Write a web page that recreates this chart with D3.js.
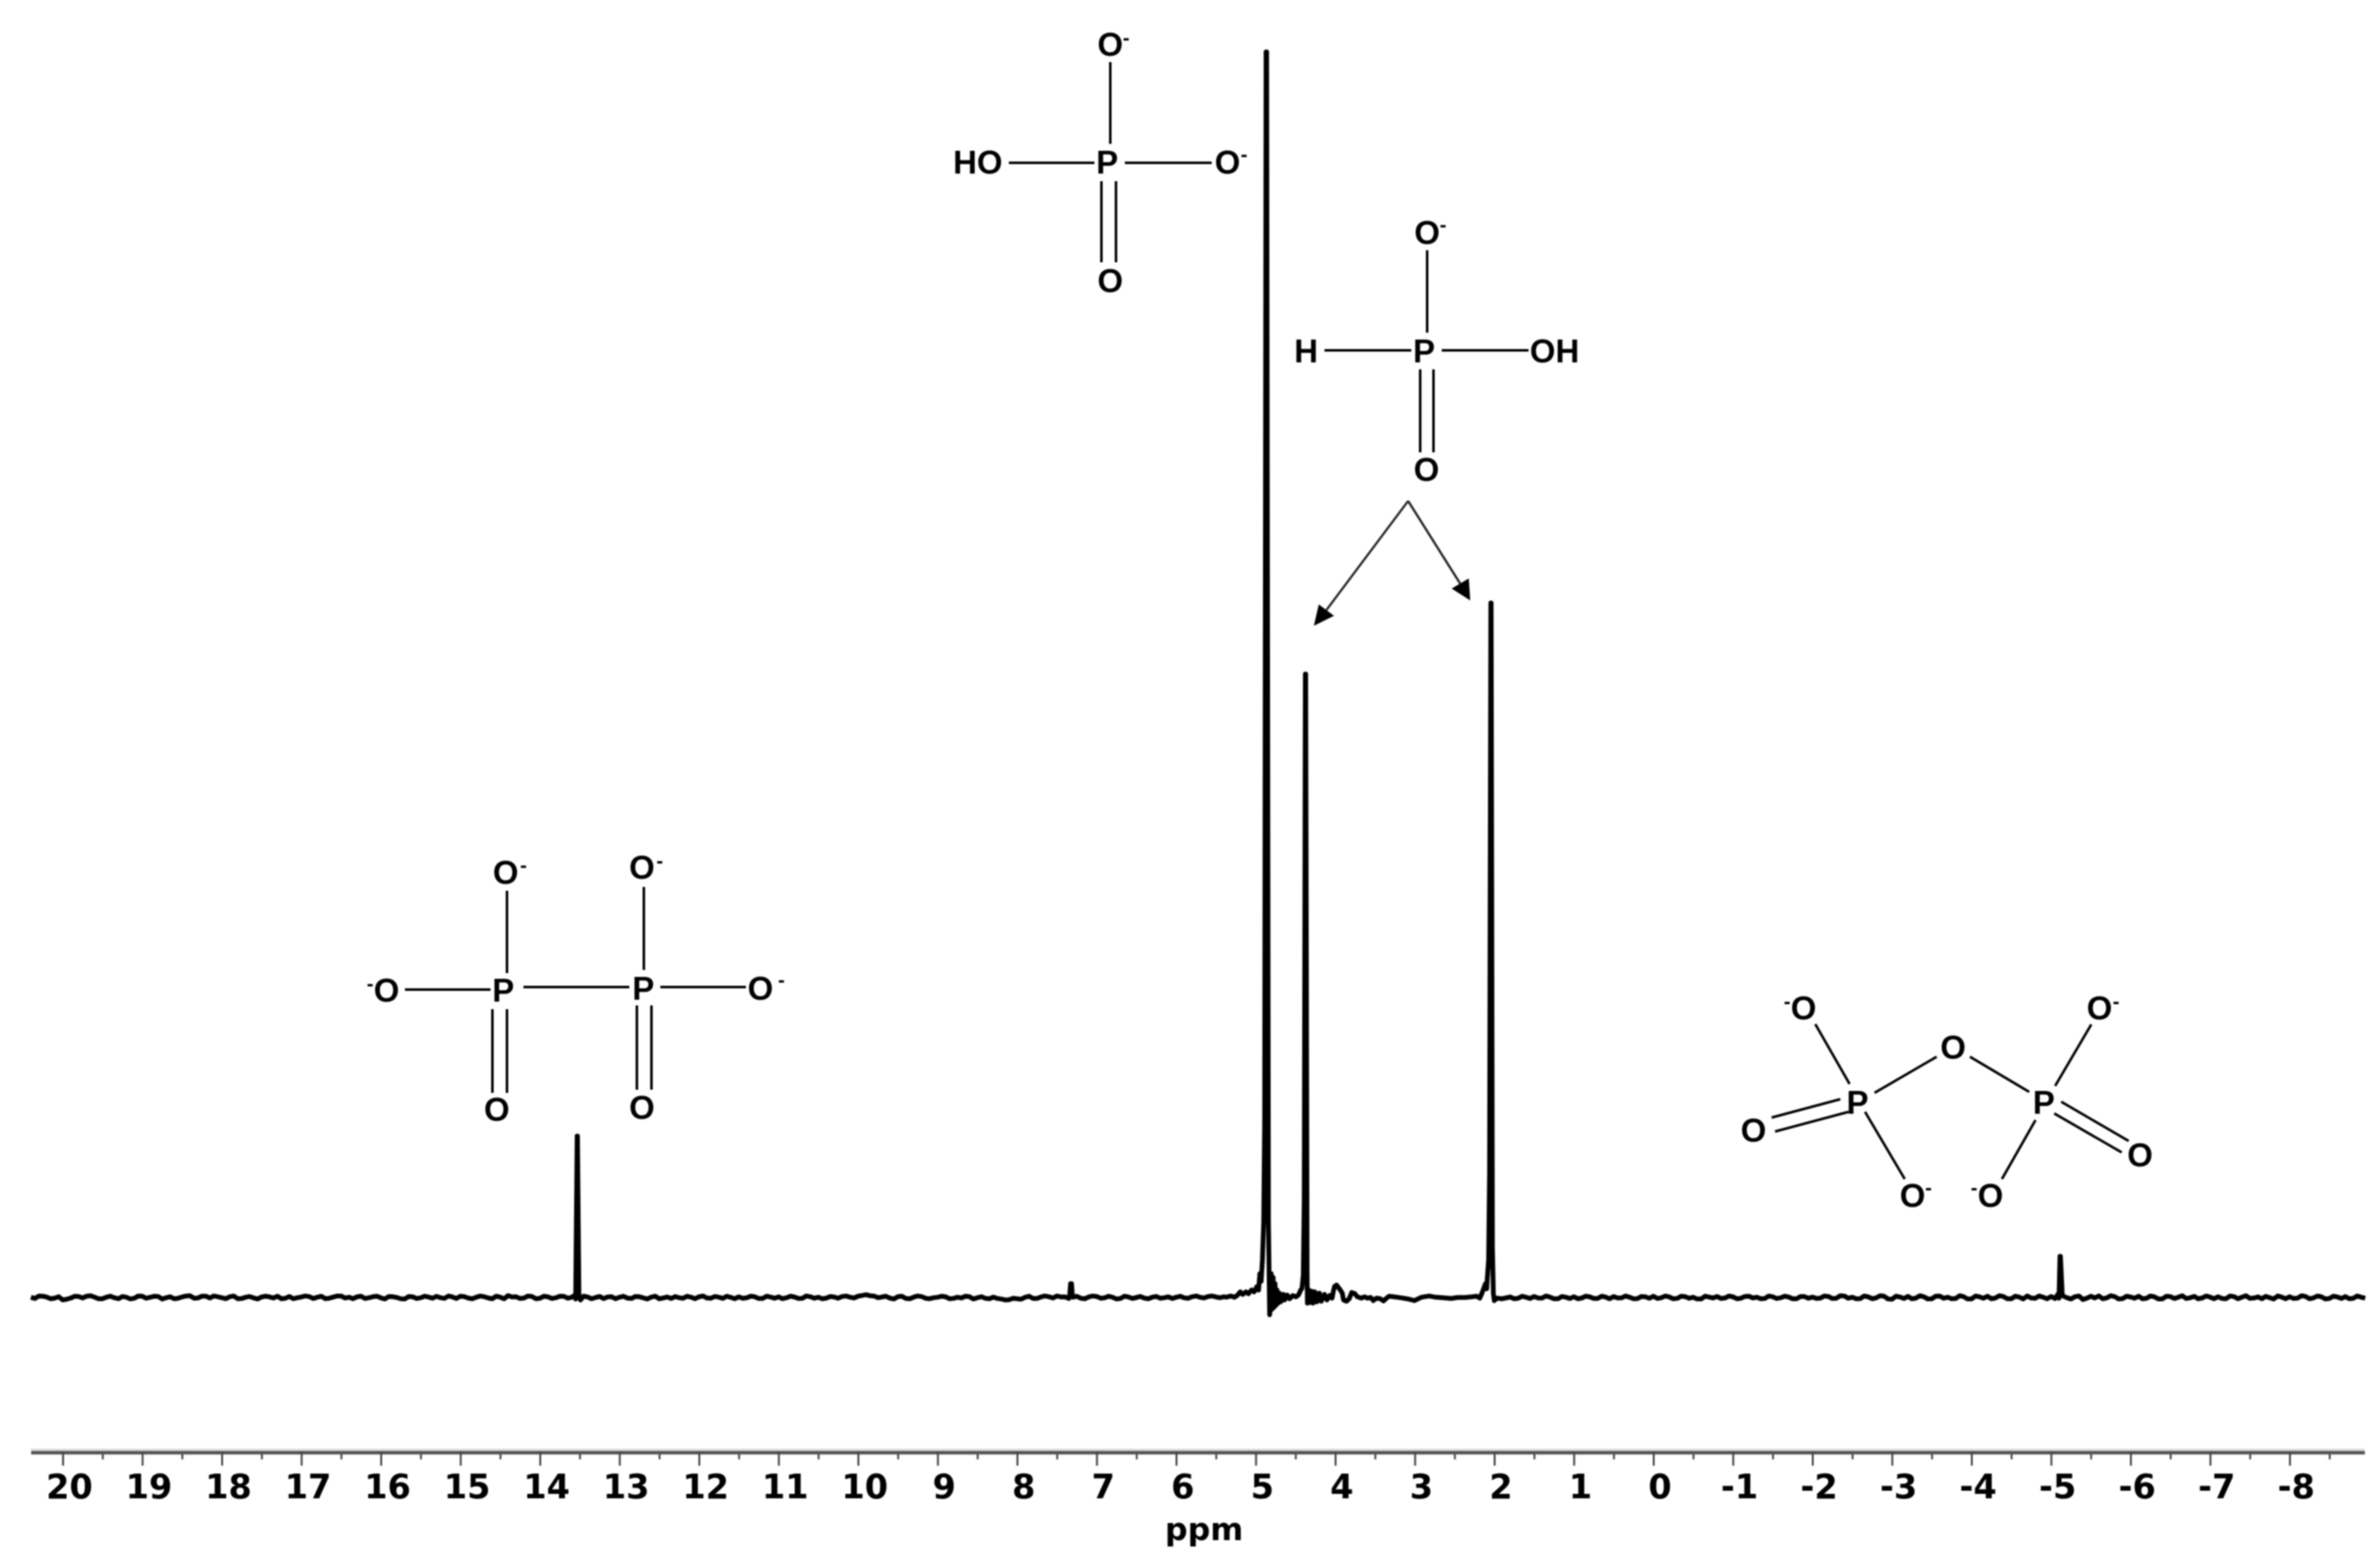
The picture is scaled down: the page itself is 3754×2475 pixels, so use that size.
<!DOCTYPE html>
<html>
<head>
<meta charset="utf-8">
<title>31P NMR spectrum</title>
<script src="https://cdn.jsdelivr.net/npm/d3@7"></script>
<style>
  html, body { margin: 0; padding: 0; background: #fff; }
  svg { display: block; filter: blur(0.9px); }
  .atom { font-family: "Liberation Sans", Arial, sans-serif; font-weight: bold; fill: #000; }
</style>
</head>
<body>
<div id="chart-area"></div>
<script>
// axis ticks (ppm)
var majorTicks = [20,19,18,17,16,15,14,13,12,11,10,9,8,7,6,5,4,3,2,1,0,-1,-2,-3,-4,-5,-6,-7,-8];
var minorTicks = [19.5,18.5,17.5,16.5,15.5,14.5,13.5,12.5,11.5,10.5,9.5,8.5,7.5,6.5,5.5,4.5,3.5,2.5,1.5,0.5,-0.5,-1.5,-2.5,-3.5,-4.5,-5.5,-6.5,-7.5,-8.5];

// baseline read every 0.1 ppm, from 20.4 down to 5.4
var baselineLeft = [
  .02,.12,.03,-.05,-.2,-.05,.08,.1,.02,-.1,
  .1,-.1,.02,-.06,.1,.02,.08,-.02,-.1,.04,
  .14,-.04,.1,.12,-.02,.06,-.1,.02,-.03,.04,
  .05,.1,-.06,-.1,.04,.07,.02,-.09,.03,.12,
  .02,.05,-.08,.06,-.03,.08,.0,-.12,.05,-.02,
  .03,.09,-.07,.04,.1,-.05,.02,.06,-.1,.03,
  .15,.06,-.04,.08,-.06,.05,-.02,.09,.02,-.08,
  .04,.0,-.09,.06,.02,-.05,.08,-.03,.03,-.1,
  .04,.07,-.06,.02,.05,-.04,.08,-.07,.01,.05,
  -.03,.06,-.08,.03,.05,-.02,.04,-.06,.06,.02,
  -.05,.04,.08,.02,.1,.22,.12,.04,-.05,.06,
  -.08,.03,.07,-.1,.02,.05,-.07,-.04,.06,-.02,
  -.06,.03,-.12,-.18,-.1,.02,-.08,.04,.06,.12,
  .05,.02,-.06,.04,.08,-.03,.02,-.08,.04,.0,
  -.05,.03,-.06,.05,.02,-.03,.06,.02,.08,.04,
  .06
];
// readings between those, from 20.35 down to 5.45
var baselineLeftMid = [
  -.08,.1,-.1,.06,-.14,.1,-.04,.14,-.1,.03,
  -.02,.08,-.12,.12,-.06,.1,-.12,.06,-.06,.12,
  -.06,.1,-.04,.06,-.1,.12,-.08,.08,-.12,.1,
  -.04,-.1,.08,-.02,.12,-.08,.1,-.06,.12,-.04,
  -.1,.1,-.02,.1,-.12,.06,-.1,.08,-.08,.1,
  -.06,-.02,.12,-.08,.06,-.1,.12,-.04,.1,-.1,
  .04,-.08,.12,-.1,.1,-.08,.1,-.06,-.12,.1,
  -.1,.08,.04,-.1,.1,-.08,.06,-.12,.1,-.04,
  -.08,-.02,.1,-.1,.12,-.06,.02,.1,-.1,-.06,
  .1,-.08,.1,-.06,-.1,.1,-.08,.12,-.06,-.1,
  .08,-.06,.12,-.04,.16,.14,-.02,.1,-.12,.1,
  -.1,.12,-.06,-.02,.1,-.1,.02,.1,-.12,.06,
  -.1,-.08,-.2,-.06,-.14,.1,-.08,.12,-.04,.04,
  -.08,.1,-.1,.12,-.06,.1,-.12,.1,-.08,.08,
  -.1,.08,-.02,-.08,.1,-.06,.12,-.04,.12,-.02
];

// region around the three main signals, read point by point
var detailPpm = [
  5.370,5.315,5.267,5.227,5.195,5.163,5.124,5.092,5.052,5.020,4.988,4.964,4.948,4.932,4.916,4.900,4.888,
  4.870,4.863,4.840,4.825,4.813,4.805,4.797,4.781,4.773,4.757,4.749,4.733,4.725,4.701,4.685,4.653,4.637,
  4.605,4.574,4.534,4.494,4.462,4.438,4.418,4.402,4.390,4.376,4.372,4.354,4.350,4.334,4.318,4.295,4.279,
  4.255,4.231,4.199,4.175,4.135,4.104,4.072,4.040,4.024,4.008,3.984,3.960,3.936,3.912,3.896,3.857,3.825,
  3.793,3.753,3.721,3.673,3.633,3.594,3.554,3.522,3.482,3.434,3.394,3.355,3.323,3.259,3.179,3.100,3.004,
  2.916,2.820,2.741,2.637,2.542,2.462,2.367,2.287,2.223,2.183,2.159,2.135,2.112,2.096,2.088,2.072,2.060,
  2.044,2.040,2.024,2.012,2.000,1.968,1.904
];
var detailIntensity = [
  .02,.12,.02,.2,.45,.25,.45,.3,.6,.45,.85,.6,1.9,1.3,3,6,14,
  99.9,99.9,6,-1.38,-.6,1.9,-.95,1.6,-.8,1.1,-.65,.6,-.5,.35,-.35,.25,-.2,
  .2,-.1,.15,.05,.2,.55,.75,1.8,8,50,50,2,-.45,.6,-.4,.5,-.45,
  .45,-.35,.35,-.3,.25,-.2,.15,-.05,.5,.9,1,.8,.6,.35,-.2,-.3,-.1,
  .4,.3,.05,-.05,.05,-.05,0,-.25,-.05,-.1,-.28,-.05,.1,.05,-.02,-.1,-.25,
  .02,.12,.02,-.02,-.08,0,0,.05,.1,-.05,.3,.7,1.1,.7,1.6,3,10,
  55.7,55.7,4,.3,-.25,-.05,-.1
];

// baseline read every 0.1 ppm, from 1.8 down to -8.9
var baselineRight = [
  .04,-.06,.02,.08,-.05,.03,-.1,.02,.06,-.04,
  .05,-.08,.03,.07,-.03,.02,-.09,.05,.1,-.02,
  .04,-.07,.06,.02,-.12,.03,.08,-.04,.05,-.06,
  .1,.02,-.08,.06,-.02,.04,-.1,.07,.03,-.05,
  .08,-.06,.12,.02,-.09,.05,-.03,.1,-.14,.04,
  .09,-.05,.06,-.1,.11,.02,-.08,.07,-.12,.05,
  .1,-.04,.08,-.1,.03,.12,-.06,.02,.08,-.05,
  -.02,.06,-.16,.1,.13,-.03,.07,-.09,.04,.1,
  -.06,.05,-.11,.07,.02,-.08,.09,-.04,.03,.06,
  -.1,.07,.02,-.07,.05,.09,-.12,.03,.06,-.05,
  .08,-.03,.05,-.08,.04,.07,-.06,.02
];
// readings between those, from 1.75 down to -8.95
var baselineRightMid = [
  -.1,.1,-.08,-.04,.12,-.1,.08,-.08,-.1,.1,
  -.08,.1,-.1,-.04,.12,-.1,.08,-.06,-.08,.12,
  -.1,.1,-.06,-.12,.1,-.04,-.08,.12,-.1,.08,
  -.04,-.1,.12,-.08,.1,-.1,.08,-.06,-.08,.12,
  -.08,.14,-.06,-.1,.12,-.1,.14,-.12,.1,-.08,
  -.1,.14,-.12,.1,-.06,-.1,.14,-.12,.12,-.06,
  -.1,.14,-.1,.1,-.12,-.04,.12,-.1,-.08,.12,
  -.12,.12,-.06,-.04,-.1,.14,-.12,.1,-.06,-.1,
  .12,-.12,.1,-.08,.14,-.02,-.1,.12,-.1,-.08,
  .12,-.1,.14,-.04,-.1,-.02,.12,-.1,-.08,.14,
  -.1,.12,-.12,.1,-.08,-.1,.12,-.06
];

// narrow isolated signals
var peakPpm = [13.57,13.55,13.532,13.528,13.51,13.49, 7.34,7.328,7.316,7.305, -5.09,-5.112,-5.118,-5.14];
var peakIntensity = [.15,.5,12.95,12.95,.3,-.2, .1,1.1,1.1,.1, .3,3.3,3.3,.3];

// structure drawings (page coordinates)
var atomLabels = [
  ["O",1752,69],["P",1747,255],["HO",1543,255],["O",1937,255],["O",1752,442],
  ["O",2252,366],["P",2247,553],["H",2061,553],["OH",2453,553],["O",2251,740],
  ["O",798,1376],["O",1013,1368],["O",610,1562],["P",794,1562],["P",1015,1559],["O",1200,1559],["O",784,1750],["O",1013,1747],
  ["O",2846,1590],["O",3313,1590],["O",3082,1652],["P",2931,1739],["P",3225,1739],["O",2767,1783],["O",3377,1822],["O",3018,1886],["O",3141,1886]
];
var chargeLabels = [
  [1777,60],[1963,244],[2277,355],
  [826,1366],[1041,1359],[584,1553],[1233,1547],
  [2820,1581],[3339,1581],[3043,1875],[3115,1875]
];
var bondLines = [
  [1752,98,1752,227],[1592,257,1727,257],[1775,257,1912,257],[1738,286,1738,414],[1761,286,1761,414],
  [2252,395,2252,525],[2090,553,2227,553],[2275,553,2412,553],[2241,583,2241,714],[2262,583,2262,714],
  [800,1406,800,1536],[1016,1400,1016,1531],[639,1562,774,1562],[826,1558,993,1558],[1042,1558,1177,1558],
  [777,1593,777,1725],[800,1593,800,1725],[1005,1587,1005,1720],[1028,1587,1028,1720],
  [2864.5,1616.5,2918.6,1711],[2958,1725,3056,1668],[3108.5,1668,3202,1723.5],[3300,1617,3243,1714],
  [2795.6,1764,2904,1735],[2801,1786,2917,1755],[3252.5,1739,3359,1801],[3241.5,1757.5,3348,1819],
  [2943,1755,3005.6,1861],[3212,1768,3159,1861]
];
var arrowLines = [[2222,790.7,2093,963],[2222,790.7,2304,921]];
var arrowHeads = [
  [[2073.3,987.7],[2081,954],[2105,972]],
  [[2320,947.7],[2290.7,929],[2317.7,913]]
];

var svg = d3.select("#chart-area").append("svg")
	.attr("width", 3754)
	.attr("height", 2475)
	.style("background", "#fff");

var x = d3.scaleLinear()
	.domain([20.4, -8.94])
	.range([48.8, 3731]);

var y = d3.scaleLinear()
	.domain([0, 100])
	.range([2048, 80]);

// join everything into one trace, high ppm first
var trace = baselineLeft.map((v, i) => [20.4 - i * 0.1, v])
	.concat(baselineLeftMid.map((v, i) => [20.35 - i * 0.1, v]))
	.concat(detailPpm.map((p, i) => [p, detailIntensity[i]]))
	.concat(baselineRight.map((v, i) => [1.8 - i * 0.1, v]))
	.concat(baselineRightMid.map((v, i) => [1.75 - i * 0.1, v]))
	.concat(peakPpm.map((p, i) => [p, peakIntensity[i]]))
	.sort((a, b) => b[0] - a[0]);

var line = d3.line()
	.x((d) => x(d[0]))
	.y((d) => y(d[1]));

svg.append("path")
	.datum(trace)
	.attr("d", line)
	.attr("fill", "none")
	.attr("stroke", "#000")
	.attr("stroke-width", 7.5)
	.attr("stroke-linejoin", "round");

// axis
var axisY = 2292.5;

svg.append("line")
	.attr("x1", x.range()[0]).attr("x2", x.range()[1])
	.attr("y1", axisY - 4).attr("y2", axisY - 4)
	.attr("stroke", "#ddd")
	.attr("stroke-width", 4);

var minorAxis = d3.axisBottom(x)
	.tickValues(minorTicks)
	.tickSize(11)
	.tickSizeOuter(0)
	.tickFormat("");

var majorAxis = d3.axisBottom(x)
	.tickValues(majorTicks)
	.tickSize(21)
	.tickSizeOuter(0)
	.tickFormat((d) => d);

var gMinor = svg.append("g").attr("transform", "translate(0," + axisY + ")").call(minorAxis);
var gMajor = svg.append("g").attr("transform", "translate(0," + axisY + ")").call(majorAxis);

[gMinor, gMajor].forEach((g) => {
	g.selectAll(".domain").attr("stroke", "#555").attr("stroke-width", 5);
	g.selectAll(".tick line").attr("stroke", "#444").attr("stroke-width", 3);
});

gMajor.selectAll(".tick text")
	.attr("x", 10)
	.attr("y", 72.5)
	.attr("dy", 0)
	.attr("fill", "#000")
	.attr("font-family", "'DejaVu Sans'")
	.attr("font-weight", "bold")
	.attr("font-size", 53);

svg.append("text")
	.attr("x", 1900)
	.attr("y", 2431)
	.attr("text-anchor", "middle")
	.attr("font-family", "'DejaVu Sans'")
	.attr("font-weight", "bold")
	.attr("font-size", 50)
	.text("ppm");

// structures
svg.selectAll(".bond")
	.data(bondLines)
	.enter()
	.append("line")
		.attr("class", "bond")
		.attr("x1", (d) => d[0])
		.attr("y1", (d) => d[1])
		.attr("x2", (d) => d[2])
		.attr("y2", (d) => d[3])
		.attr("stroke", "#000")
		.attr("stroke-width", 4);

svg.selectAll(".atom-label")
	.data(atomLabels)
	.enter()
	.append("text")
		.attr("class", "atom atom-label")
		.attr("x", (d) => d[1])
		.attr("y", (d) => d[2] + 18.5)
		.attr("text-anchor", "middle")
		.attr("font-size", 52)
		.text((d) => d[0]);

svg.selectAll(".charge")
	.data(chargeLabels)
	.enter()
	.append("text")
		.attr("class", "atom charge")
		.attr("x", (d) => d[0])
		.attr("y", (d) => d[1] + 10)
		.attr("text-anchor", "middle")
		.attr("font-size", 32)
		.text("-");

svg.selectAll(".arrow-line")
	.data(arrowLines)
	.enter()
	.append("line")
		.attr("class", "arrow-line")
		.attr("x1", (d) => d[0])
		.attr("y1", (d) => d[1])
		.attr("x2", (d) => d[2])
		.attr("y2", (d) => d[3])
		.attr("stroke", "#222")
		.attr("stroke-width", 3.5);

svg.selectAll(".arrow-head")
	.data(arrowHeads)
	.enter()
	.append("polygon")
		.attr("class", "arrow-head")
		.attr("points", (d) => d.join(" "))
		.attr("fill", "#000");
</script>
</body>
</html>
